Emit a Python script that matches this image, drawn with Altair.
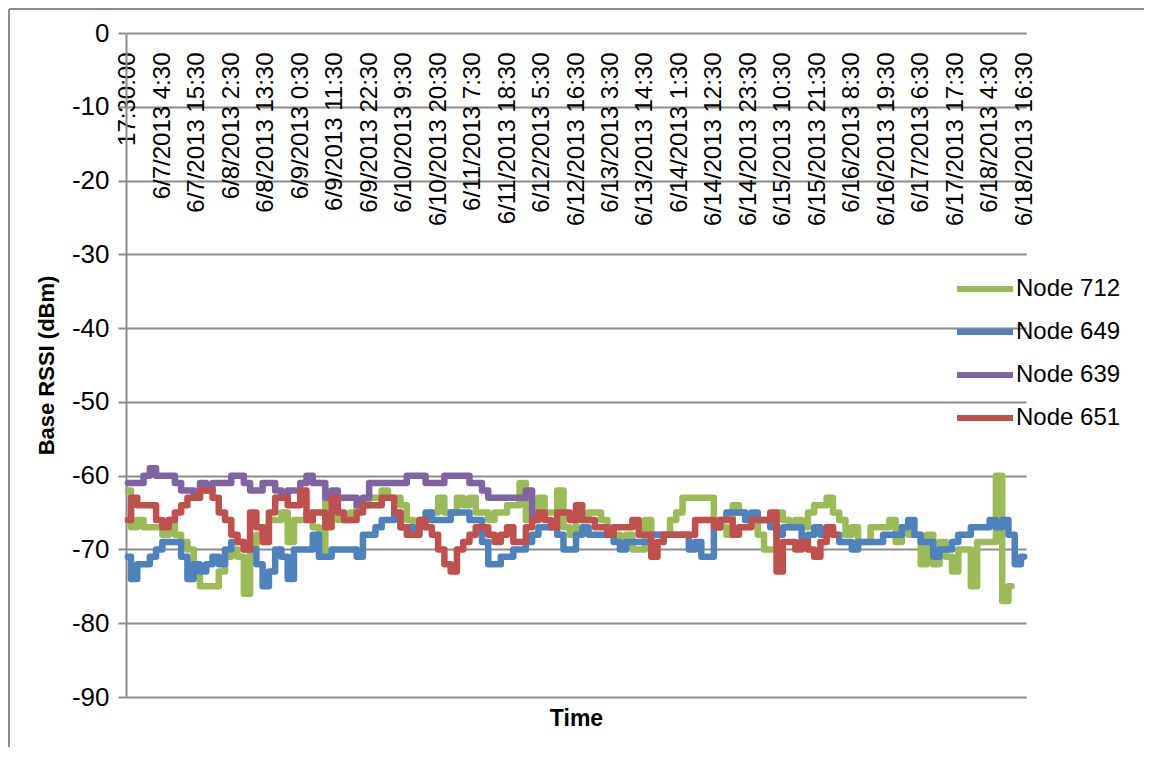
import altair as alt
import pandas as pd

# ---------------- data ----------------
SERIES = ["Node 712", "Node 649", "Node 639", "Node 651"]
COLORS = ["#9BBB59", "#4F81BD", "#8064A2", "#C0504D"]

# samples every 2 hours from 6/6/2013 17:30
STEP_HOURS = 2

node712 = [
    -62, -67, -66, -67, -67, -67, -68, -66, -68, -69, -70, -73, -75, -75, -75, -73, -71, -70,
    -71, -76, -70, -68, -67, -66, -66, -65, -69, -66, -66, -65, -67, -71, -63, -63, -66, -66,
    -65, -64, -64, -63, -63, -62, -63, -63, -64, -66, -67, -67, -66, -65, -63, -65, -65, -63,
    -64, -63, -65, -65, -66, -65, -65, -64, -64, -61, -66, -66, -63, -65, -65, -62, -67, -68,
    -66, -66, -65, -65, -66, -67, -68, -69, -68, -70, -70, -66, -68, -68, -68, -66, -65, -63,
    -63, -63, -63, -63, -66, -67, -68, -64, -65, -66, -66, -68, -70, -70, -65, -66, -67, -66,
    -67, -65, -64, -64, -63, -65, -66, -68, -67, -69, -69, -67, -67, -67, -66, -69, -67,
    -68, -68, -72, -68, -72, -69, -71, -73, -70, -70, -75, -69, -69, -69, -60, -77, -75,
]
node649 = [
    -71, -74, -72, -72, -71, -70, -69, -69, -69, -71, -74, -72, -73, -72, -71, -72, -70, -69,
    -69, -70, -70, -72, -75, -73, -70, -71, -74, -70, -70, -70, -68, -71, -71, -70, -70, -70,
    -70, -71, -68, -68, -67, -66, -66, -65, -67, -67, -68, -66, -65, -66, -66, -66, -65, -65,
    -65, -66, -66, -69, -72, -72, -71, -71, -70, -70, -69, -68, -67, -67, -67, -68, -70, -70,
    -68, -67, -68, -68, -68, -68, -69, -70, -69, -69, -69, -69, -68, -68, -68, -68, -68, -68,
    -70, -69, -71, -71, -67, -66, -65, -65, -65, -66, -65, -66, -66, -67, -68, -67, -67, -67,
    -69, -68, -67, -68, -67, -68, -69, -69, -70, -69, -69, -69, -69, -68, -68, -68, -67, -66,
    -68, -69, -69, -71, -70, -70, -69, -68, -68, -67, -67, -67, -66, -67, -66, -68, -72, -71,
]
node639 = [
    -61, -61, -61, -60, -59, -60, -60, -60, -61, -62, -62, -63, -61, -62, -61, -61, -61, -60,
    -60, -61, -62, -62, -61, -61, -62, -63, -62, -62, -61, -60, -61, -61, -63, -62, -63, -63,
    -63, -64, -63, -61, -61, -61, -61, -61, -61, -60, -60, -60, -61, -61, -61, -60, -60, -60,
    -60, -61, -61, -62, -63, -63, -63, -63, -63, -63, -62, -66,
]
node651 = [
    -66, -63, -64, -64, -64, -66, -67, -66, -65, -64, -63, -63, -62, -62, -63, -65, -66, -68,
    -69, -70, -65, -67, -69, -65, -63, -63, -64, -64, -62, -66, -65, -65, -67, -63, -65, -66,
    -66, -65, -64, -64, -64, -63, -63, -65, -67, -68, -68, -66, -67, -68, -70, -72, -73, -70,
    -69, -68, -67, -67, -68, -69, -68, -67, -69, -69, -67, -66, -65, -66, -67, -65, -65, -66,
    -64, -66, -66, -67, -67, -68, -67, -67, -67, -66, -68, -68, -71, -69, -68, -68, -68, -68,
    -68, -66, -66, -66, -67, -66, -66, -68, -67, -67, -66, -66, -66, -65, -73, -69, -69, -70,
    -69, -70, -71, -69, -67, -68,
]

TICK_HOURS = [0, 11, 22, 33, 44, 55, 66, 77, 88, 99, 110, 121, 132, 143, 154, 165, 176,
              187, 198, 209, 220, 231, 242, 253, 264, 275, 286]
TICK_LABELS = ["17:30:00", "6/7/2013 4:30", "6/7/2013 15:30", "6/8/2013 2:30",
               "6/8/2013 13:30", "6/9/2013 0:30", "6/9/2013 11:30", "6/9/2013 22:30",
               "6/10/2013 9:30", "6/10/2013 20:30", "6/11/2013 7:30", "6/11/2013 18:30",
               "6/12/2013 5:30", "6/12/2013 16:30", "6/13/2013 3:30", "6/13/2013 14:30",
               "6/14/2013 1:30", "6/14/2013 12:30", "6/14/2013 23:30", "6/15/2013 10:30",
               "6/15/2013 21:30", "6/16/2013 8:30", "6/16/2013 19:30", "6/17/2013 6:30",
               "6/17/2013 17:30", "6/18/2013 4:30", "6/18/2013 16:30"]
Y_TICKS = [0, -10, -20, -30, -40, -50, -60, -70, -80, -90]

# ---------------- table ----------------
rows = []
for name, vals in zip(SERIES, [node712, node649, node639, node651]):
    for i, v in enumerate(vals):
        rows.append({"series": name, "t": i * STEP_HOURS, "rssi": v})
df = pd.DataFrame(rows)

FONT = "Liberation Sans"
GRID = "#8c8c8c"

label_arr = "[" + ",".join("'" + s + "'" for s in TICK_LABELS) + "]"
hour_arr = "[" + ",".join(str(h) for h in TICK_HOURS) + "]"
x_label_expr = f"{label_arr}[indexof({hour_arr}, datum.value)]"

x_scale = alt.Scale(domain=[-0.6, 286.6], nice=False, zero=False)
y_scale = alt.Scale(domain=[-90, 0], nice=False, zero=False)
color_scale = alt.Scale(domain=SERIES, range=COLORS)

top_axis = alt.Axis(
    orient="top", values=TICK_HOURS, labelExpr=x_label_expr,
    labelAngle=270, labelAlign="right", labelBaseline="middle",
    labelPadding=-19, ticks=False, domain=False, grid=False,
    labelFont=FONT, labelFontSize=24, labelColor="black",
    labelOverlap=False, labelFlush=False, title=None,
)
bottom_axis = alt.Axis(
    orient="bottom", labels=False, ticks=False, domain=False, grid=False,
    title="Time", titleFont=FONT, titleFontSize=23, titleFontWeight="bold",
    titleColor="black", titlePadding=10,
)
y_axis = alt.Axis(
    values=Y_TICKS, grid=True, gridColor=GRID, gridWidth=2,
    domainColor=GRID, domainWidth=2, tickColor=GRID, tickWidth=2, tickSize=8,
    labelFont=FONT, labelFontSize=26, labelColor="black", labelPadding=9,
    labelExpr="'' + datum.value",
    title="Base RSSI (dBm)", titleFont=FONT, titleFontSize=22,
    titleFontWeight="bold", titleColor="black", titlePadding=13,
)
legend = alt.Legend(
    orient="none", legendX=828, legendY=225, title=None,
    symbolType="stroke", symbolSize=3136, symbolStrokeWidth=6,
    labelFont=FONT, labelFontSize=24, labelColor="black", labelOffset=0,
    rowPadding=-9, labelLimit=300,
)

layers = []
for k, name in enumerate(SERIES):
    layers.append(
        alt.Chart(df)
        .transform_filter(alt.datum.series == name)
        .mark_line(strokeWidth=6.5, strokeCap="round", strokeJoin="round",
                   interpolate="step")
        .encode(
            x=alt.X("t:Q", scale=x_scale, axis=top_axis if k == 0 else None),
            y=alt.Y("rssi:Q", scale=y_scale, axis=y_axis),
            color=alt.Color("series:N", scale=color_scale, legend=legend),
        )
    )

time_title = (
    alt.Chart(df)
    .mark_point(opacity=0)
    .encode(x=alt.X("t:Q", scale=x_scale, axis=bottom_axis))
)

border = alt.Chart(df).mark_rule(color="#8c8c8c", strokeWidth=2).encode(
    x=alt.value(-117), y=alt.value(-24), y2=alt.value(745)
)
border_top = alt.Chart(df).mark_rule(color="#8c8c8c", strokeWidth=2).encode(
    x=alt.value(-117), x2=alt.value(1030), y=alt.value(-24)
)

chart = (
    alt.layer(*layers, time_title, border, border_top)
    .resolve_axis(x="independent")
    .properties(
        width=900, height=664,
        autosize=alt.AutoSizeParams(type="none"),
        padding={"left": 118, "top": 25, "right": 118, "bottom": 50},
        background="white",
    )
    .configure_view(stroke=None)
)

chart.save("out.html", embed_options={"renderer": "svg", "actions": False})
